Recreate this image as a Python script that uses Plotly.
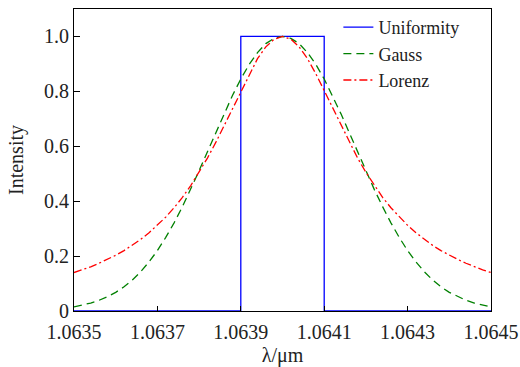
import plotly.graph_objects as go

# wavelength samples (um)
wavelength = [1.0635, 1.06352, 1.06354, 1.06356, 1.06358, 1.0636, 1.06362, 1.06364, 1.06366, 1.06368,
              1.0637, 1.06372, 1.06374, 1.06376, 1.06378, 1.0638, 1.06382, 1.06384, 1.06386, 1.06388,
              1.0639, 1.06392, 1.06394, 1.06396, 1.06398, 1.0640, 1.06402, 1.06404, 1.06406, 1.06408,
              1.0641, 1.06412, 1.06414, 1.06416, 1.06418, 1.0642, 1.06422, 1.06424, 1.06426, 1.06428,
              1.0643, 1.06432, 1.06434, 1.06436, 1.06438, 1.0644, 1.06442, 1.06444, 1.06446, 1.06448,
              1.0645]

gauss_half = [0.015, 0.021, 0.029, 0.039, 0.052, 0.068, 0.088, 0.113, 0.143, 0.179,
              0.220, 0.268, 0.321, 0.380, 0.443, 0.511, 0.580, 0.650, 0.719, 0.785,
              0.845, 0.898, 0.941, 0.974, 0.993, 1.000]
lorenz_half = [0.140, 0.150, 0.161, 0.174, 0.188, 0.203, 0.220, 0.239, 0.261, 0.285,
               0.312, 0.342, 0.376, 0.414, 0.457, 0.505, 0.557, 0.614, 0.675, 0.739,
               0.803, 0.864, 0.919, 0.962, 0.990, 1.000]
gauss = gauss_half + gauss_half[-2::-1]
lorenz = lorenz_half + lorenz_half[-2::-1]

uniform_x = [1.0635, 1.0639, 1.0639, 1.0641, 1.0641, 1.0645]
uniform_y = [0, 0, 1, 1, 0, 0]

x_ticks = [1.0635, 1.0637, 1.0639, 1.0641, 1.0643, 1.0645]
x_tick_text = ["1.0635", "1.0637", "1.0639", "1.0641", "1.0643", "1.0645"]
y_ticks = [0, 0.2, 0.4, 0.6, 0.8, 1.0]
y_tick_text = ["0", "0.2", "0.4", "0.6", "0.8", "1.0"]

FONT = "Liberation Serif"

fig = go.Figure()
fig.add_trace(go.Scatter(x=uniform_x, y=uniform_y, mode="lines", name="Uniformity",
                         line=dict(color="#0000FF", width=1.3)))
fig.add_trace(go.Scatter(x=wavelength, y=gauss, mode="lines", name="Gauss",
                         line=dict(color="#008000", width=1.3, dash="8px,5px")))
fig.add_trace(go.Scatter(x=wavelength, y=lorenz, mode="lines", name="Lorenz",
                         line=dict(color="#FF0000", width=1.3, dash="8px,3px,2px,3px")))

fig.update_layout(
    template="none",
    width=520, height=367,
    margin=dict(l=74, r=29, t=9, b=56, autoexpand=False),
    paper_bgcolor="white", plot_bgcolor="white",
    font=dict(family=FONT, size=20, color="#222222"),
    showlegend=True,
    legend=dict(x=0.634, y=1.0, xanchor="left", yanchor="top",
                bgcolor="rgba(0,0,0,0)", borderwidth=0,
                font=dict(family=FONT, size=18, color="#222222"),
                tracegroupgap=0),
    xaxis=dict(range=[1.0635, 1.0645], tickvals=x_ticks, ticktext=x_tick_text,
               ticks="inside", ticklen=5, tickcolor="black", tickwidth=1,
               ticklabelstandoff=3, automargin=False,
               showline=True, linecolor="black", linewidth=1.2, mirror=True,
               showgrid=False, zeroline=False,
               title=dict(text="λ/μm", font=dict(family=FONT, size=20), standoff=6)),
    yaxis=dict(range=[0, 1.1], tickvals=y_ticks, ticktext=y_tick_text,
               ticks="inside", ticklen=6, tickcolor="black", tickwidth=1,
               automargin=False,
               showline=True, linecolor="black", linewidth=1.2, mirror=True,
               showgrid=False, zeroline=False,
               title=dict(text="Intensity", font=dict(family=FONT, size=20), standoff=14)),
)

fig.write_html("out.html", config={"displayModeBar": False},
               post_script="document.body.style.margin='0';document.body.style.overflow='hidden';")
